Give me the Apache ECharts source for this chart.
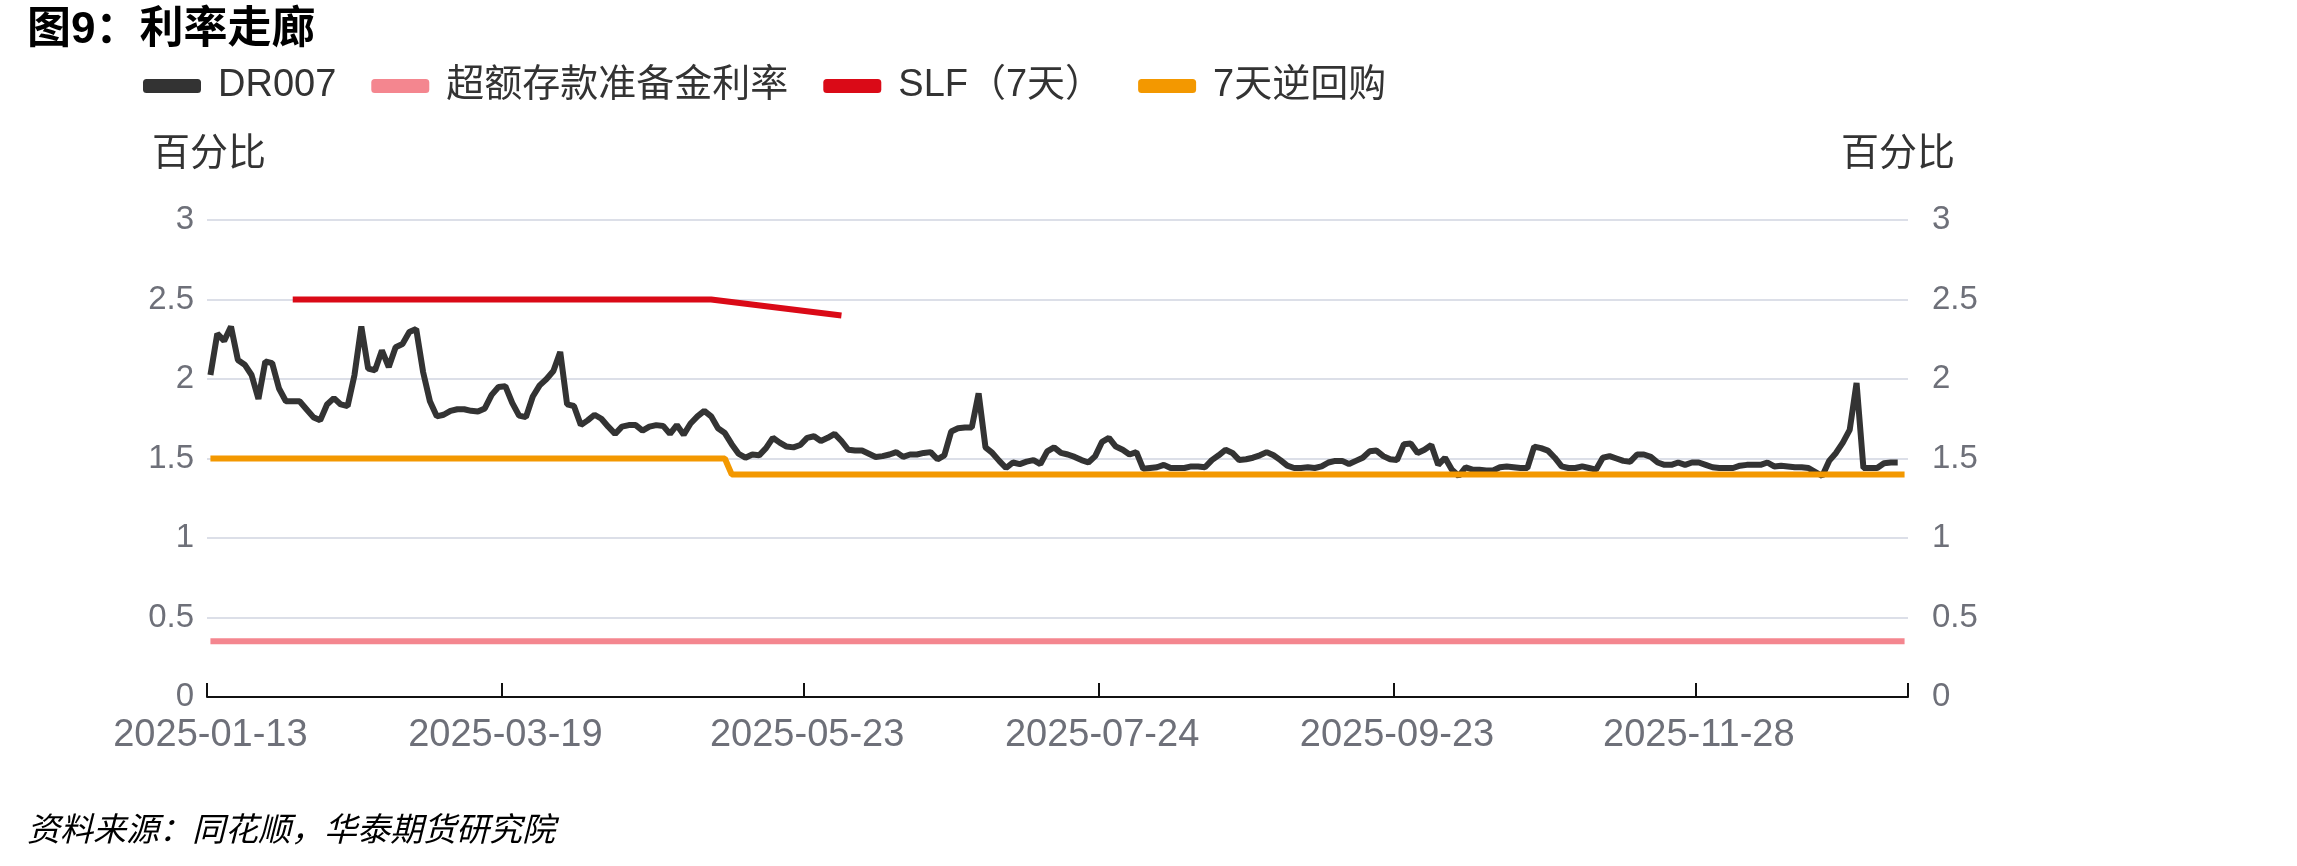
<!DOCTYPE html>
<html>
<head>
<meta charset="utf-8">
<title>图9：利率走廊</title>
<script src="https://cdn.jsdelivr.net/npm/echarts@6/dist/echarts.min.js"></script>
<style>
  html, body { margin: 0; padding: 0; background: #fff; }
  #chart { width: 2297px; height: 866px; }
</style>
</head>
<body>
<div id="chart"></div>
<script>
// 交易日历：工作日 + 调休上班日，去掉节假日
var startDay = '2025-01-13';
var dayCount = 248;
var holidays = ['2025-01-28','2025-01-29','2025-01-30','2025-01-31','2025-02-03','2025-02-04',
  '2025-04-04','2025-05-01','2025-05-02','2025-05-05','2025-06-02',
  '2025-10-01','2025-10-02','2025-10-03','2025-10-06','2025-10-07','2025-10-08',
  '2026-01-01','2026-01-02'];
var workWeekends = ['2025-01-26','2025-02-08','2025-04-27','2025-09-28','2025-10-11','2026-01-04'];

var tickDates = ['2025-01-13','2025-03-19','2025-05-23','2025-07-24','2025-09-23','2025-11-28'];

// DR007，百分比
var dr007 = [
  2.025,2.285,2.24,2.33,2.12,2.09,2.025,1.875,2.11,2.10,
  1.94,1.86,1.86,1.86,1.81,1.76,1.74,1.84,1.88,1.84,
  1.83,2.025,2.33,2.065,2.055,2.18,2.075,2.20,2.22,2.295,
  2.315,2.045,1.86,1.765,1.775,1.80,1.81,1.81,1.80,1.795,
  1.815,1.90,1.95,1.955,1.85,1.77,1.76,1.89,1.96,2.00,
  2.05,2.17,1.84,1.83,1.71,1.74,1.775,1.75,1.70,1.655,
  1.70,1.71,1.71,1.675,1.70,1.71,1.705,1.655,1.71,1.65,
  1.72,1.765,1.80,1.765,1.69,1.66,1.59,1.53,1.505,1.525,
  1.52,1.565,1.63,1.60,1.575,1.57,1.585,1.63,1.64,1.61,
  1.63,1.655,1.61,1.555,1.55,1.55,1.53,1.51,1.515,1.525,
  1.54,1.51,1.525,1.525,1.535,1.54,1.495,1.52,1.67,1.69,
  1.695,1.695,1.91,1.57,1.535,1.485,1.44,1.475,1.465,1.48,
  1.49,1.465,1.545,1.57,1.535,1.525,1.51,1.49,1.475,1.515,
  1.605,1.63,1.575,1.555,1.525,1.54,1.435,1.44,1.445,1.46,
  1.44,1.44,1.44,1.45,1.45,1.445,1.49,1.52,1.555,1.535,
  1.49,1.495,1.505,1.52,1.54,1.52,1.49,1.455,1.44,1.44,
  1.445,1.44,1.45,1.475,1.485,1.485,1.465,1.485,1.505,1.545,
  1.55,1.515,1.495,1.49,1.59,1.595,1.535,1.555,1.585,1.46,
  1.505,1.43,1.39,1.445,1.43,1.43,1.425,1.425,1.445,1.45,
  1.445,1.44,1.44,1.575,1.565,1.55,1.505,1.45,1.44,1.44,
  1.45,1.44,1.43,1.505,1.515,1.50,1.485,1.48,1.525,1.525,
  1.51,1.475,1.46,1.46,1.475,1.46,1.475,1.475,1.46,1.445,
  1.44,1.44,1.44,1.455,1.46,1.46,1.46,1.475,1.45,1.455,
  1.45,1.445,1.445,1.44,1.415,1.39,1.485,1.535,1.60,1.68,
  1.975,1.44,1.44,1.44,1.47,1.475,1.475,null
];

// 政策利率，按调整日给出
var excessDates = ['2025-01-13','2026-01-12'];
var excessValues = [0.35, 0.35];
var slfDates = ['2025-02-05','2025-02-28','2025-03-31','2025-04-30','2025-05-30'];
var slfValues = [2.5, 2.5, 2.5, 2.5, 2.4];
var repoDates = ['2025-01-13','2025-05-07','2025-05-08','2026-01-12'];
var repoValues = [1.5, 1.5, 1.4, 1.4];

function buildDays(start, n) {
  var out = [];
  var d = new Date(start + 'T00:00:00Z');
  while (out.length < n) {
    var s = d.toISOString().slice(0, 10);
    var wd = d.getUTCDay();
    var isWork = (wd !== 0 && wd !== 6 && holidays.indexOf(s) < 0) || workWeekends.indexOf(s) >= 0;
    if (isWork) out.push(s);
    d.setUTCDate(d.getUTCDate() + 1);
  }
  return out;
}
var days = buildDays(startDay, dayCount);

function pairs(xs, ys) {
  return xs.map(function (x, i) { return [x, ys[i]]; });
}

var font = '"Liberation Sans", "Noto Sans CJK SC", sans-serif';
var isTick = function (idx, val) { return tickDates.indexOf(val) >= 0; };

var chart = echarts.init(document.getElementById('chart'));
var option = {
  animation: false,
  backgroundColor: '#fff',
  textStyle: { fontFamily: font },
  title: [
    { text: '图9：利率走廊', left: 22, top: 4,
      textStyle: { fontSize: 44, fontWeight: 'bold', color: '#000', fontFamily: font } },
    { text: '资料来源：同花顺，华泰期货研究院', left: 22, bottom: 13,
      textStyle: { fontSize: 33, fontWeight: 'normal', fontStyle: 'italic', color: '#000', fontFamily: font } }
  ],
  legend: {
    left: 138, top: 62,
    icon: 'roundRect',
    itemWidth: 58, itemHeight: 14,
    itemGap: 35,
    textStyle: { fontSize: 38, color: '#333', fontFamily: font, padding: [0, 0, 0, 12] },
    data: ['DR007', '超额存款准备金利率', 'SLF（7天）', '7天逆回购']
  },
  grid: { left: 207, right: 389, top: 220, bottom: 169 },
  xAxis: {
    type: 'category',
    boundaryGap: true,
    data: days,
    axisLine: { lineStyle: { color: '#111', width: 2 } },
    axisTick: { show: true, inside: true, length: 14, interval: isTick, lineStyle: { color: '#111', width: 2 } },
    axisLabel: { interval: isTick, fontSize: 38, color: '#6E7079', margin: 20, fontFamily: font },
    splitLine: { show: false }
  },
  yAxis: [
    {
      type: 'value', min: 0, max: 3, interval: 0.5, position: 'left',
      name: '百分比', nameGap: 46,
      nameTextStyle: { fontSize: 38, color: '#333', fontFamily: font, padding: [0, 0, 0, 4] },
      axisLine: { show: false }, axisTick: { show: false },
      axisLabel: { fontSize: 33, color: '#6E7079', margin: 13, fontFamily: font },
      splitLine: { lineStyle: { color: '#DCDFE8', width: 2 } }
    },
    {
      type: 'value', min: 0, max: 3, interval: 0.5, position: 'right',
      name: '百分比', nameGap: 46,
      nameTextStyle: { fontSize: 38, color: '#333', fontFamily: font, padding: [0, 20, 0, 0] },
      axisLine: { show: false }, axisTick: { show: false },
      axisLabel: { fontSize: 33, color: '#6E7079', margin: 24, fontFamily: font },
      splitLine: { show: false }
    }
  ],
  series: [
    { name: 'DR007', type: 'line', data: dr007, showSymbol: false, symbol: 'none',
      lineStyle: { color: '#333333', width: 6 }, itemStyle: { color: '#333333' } },
    { name: '超额存款准备金利率', type: 'line', data: pairs(excessDates, excessValues), symbol: 'none',
      lineStyle: { color: '#F4868F', width: 6 }, itemStyle: { color: '#F4868F' } },
    { name: 'SLF（7天）', type: 'line', data: pairs(slfDates, slfValues), symbol: 'none',
      lineStyle: { color: '#DA0A17', width: 6 }, itemStyle: { color: '#DA0A17' } },
    { name: '7天逆回购', type: 'line', data: pairs(repoDates, repoValues), symbol: 'none',
      lineStyle: { color: '#F39800', width: 6 }, itemStyle: { color: '#F39800' } }
  ]
};
chart.setOption(option);
</script>
</body>
</html>
